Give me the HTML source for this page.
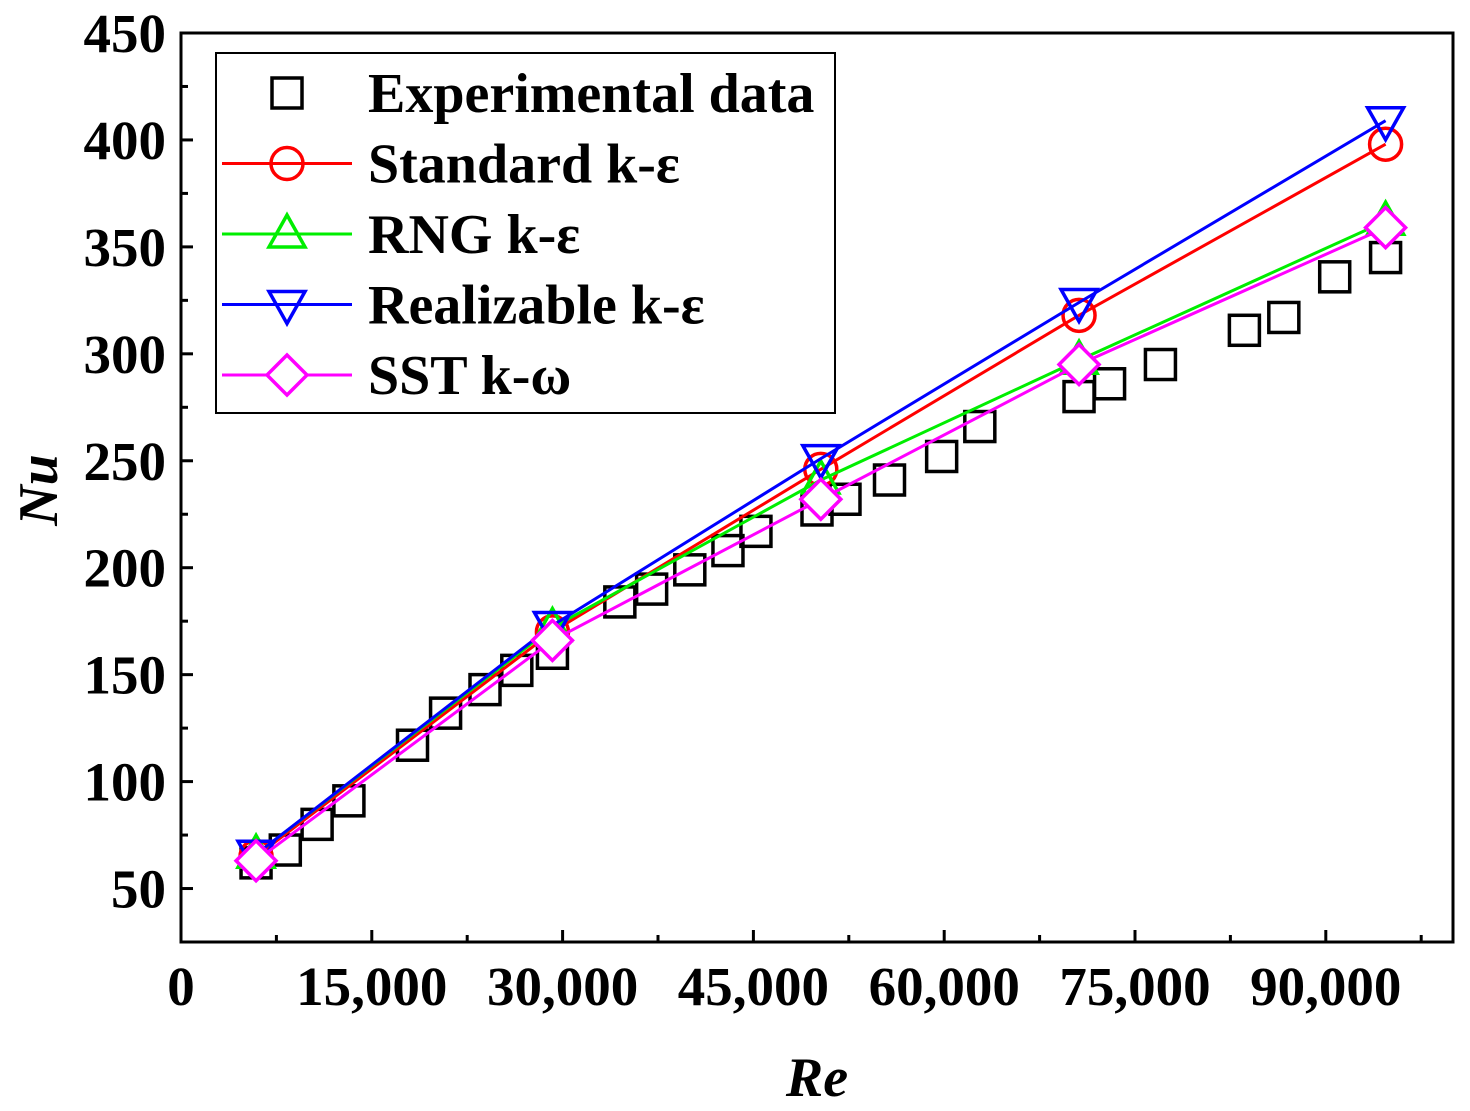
<!DOCTYPE html>
<html><head><meta charset="utf-8"><style>
body{margin:0;background:#fff}
svg text{font-family:"Liberation Serif",serif;font-weight:bold}
</style></head><body>
<svg id="chart" width="1470" height="1106" viewBox="0 0 1470 1106">
<g id="grid"></g>
<g id="series"></g>
<g id="legend"></g>
<text x="57" y="490" font-size="56" font-style="italic" text-anchor="middle" transform="rotate(-90 57 490)">Nu</text>
<text x="817" y="1096" font-size="56" font-style="italic" text-anchor="middle">Re</text>
</svg>
<script>
const xTicks=[0,15000,30000,45000,60000,75000,90000];
const xTickLabels=["0","15,000","30,000","45,000","60,000","75,000","90,000"];
const yTicks=[50,100,150,200,250,300,350,400,450];
const expRe=[5900,8200,10700,13200,18200,20800,23900,26400,29200,34500,37000,40000,43000,45200,50000,52200,55700,59800,62800,70600,73000,77000,83600,86700,90700,94700];
const expNu=[62,68,80,91,117,132,143,152,160,184,190,199,208,217,227,232,241,252,266,280,286,295,311,317,336,345];
const modelRe=[5900,29200,50300,70600,94700];
const stdNu=[65,170,246,318,398];
const rngNu=[66,172,241,297,362];
const realNu=[66,173,251,324,409];
const sstNu=[63,166,232,295,359];
const L=181,R=1453,T=33,B=942;
const X=v=>L+v/100000*(R-L);
const Y=v=>B-(v-25)/(450-25)*(B-T);
const NS="http://www.w3.org/2000/svg";
function mk(tag,attrs,parent){const e=document.createElementNS(NS,tag);for(const k in attrs)e.setAttribute(k,attrs[k]);parent.appendChild(e);return e;}
const grid=document.getElementById('grid'),ser=document.getElementById('series'),leg=document.getElementById('legend');
const frame=mk('rect',{x:L,y:T,width:R-L,height:B-T,fill:'none',stroke:'#000','stroke-width':3},grid);


xTicks.forEach((v,i)=>{
 const t=mk('line',{x1:X(v),x2:X(v),y1:B,y2:B-12,stroke:'#000','stroke-width':3},grid);
 
 
 const m=mk('line',{x1:X(v+7500),x2:X(v+7500),y1:B,y2:B-7,stroke:'#000','stroke-width':3},grid);
 
 
 const tx=mk('text',{x:X(v),y:1005,'font-size':55,'text-anchor':'middle'},grid);tx.textContent=xTickLabels[i];
 
 
});
yTicks.forEach(v=>{
 const t=mk('line',{x1:L,x2:L+12,y1:Y(v),y2:Y(v),stroke:'#000','stroke-width':3},grid);
 
 
 if(v>25){const m=mk('line',{x1:L,x2:L+7,y1:Y(v-25),y2:Y(v-25),stroke:'#000','stroke-width':3},grid);
 
 }
 const tx=mk('text',{x:166,y:Y(v)+19,'font-size':55,'text-anchor':'end'},grid);tx.textContent=v;
 
 
});
function marker(type,cx,cy,color,parent){
 let e;
 if(type==='sq')e=mk('rect',{x:cx-15,y:cy-15,width:30,height:30,fill:'none',stroke:color,'stroke-width':3.5},parent);
 else if(type==='ci')e=mk('circle',{cx:cx,cy:cy,r:16,fill:'none',stroke:color,'stroke-width':3.5},parent);
 else if(type==='up')e=mk('polygon',{points:`${cx},${cy-19} ${cx-18},${cy+13} ${cx+18},${cy+13}`,fill:'none',stroke:color,'stroke-width':3.5},parent);
 else if(type==='dn')e=mk('polygon',{points:`${cx},${cy+19} ${cx-18},${cy-13} ${cx+18},${cy-13}`,fill:'none',stroke:color,'stroke-width':3.5},parent);
 else e=mk('polygon',{points:`${cx},${cy-20} ${cx+20},${cy} ${cx},${cy+20} ${cx-20},${cy}`,fill:'#fff',stroke:color,'stroke-width':3.5},parent);
 return e;
}
expRe.forEach((r,i)=>{const m=marker('sq',X(r),Y(expNu[i]),'#000',ser);
 
 });
const models=[[stdNu,'#f00','ci','standard-k-epsilon'],[rngNu,'#0e0','up','rng-k-epsilon'],[realNu,'#00f','dn','realizable-k-epsilon'],[sstNu,'#f0f','di','sst-k-omega']];
models.forEach(([d,c,t,n])=>{
 const g=mk('g',{},ser);
 
 
 const p=mk('polyline',{points:modelRe.map((r,i)=>X(r)+','+Y(d[i])).join(' '),fill:'none',stroke:c,'stroke-width':3},g);
 
 
 modelRe.forEach((r,i)=>{const m=marker(t,X(r),Y(d[i]),c,g);
  
  });
});
const lb=mk('rect',{x:216,y:53,width:619,height:360,fill:'#fff',stroke:'#000','stroke-width':2},leg);


const legItems=[['Experimental data','#000','sq',false],['Standard k-ε','#f00','ci',true],['RNG k-ε','#0e0','up',true],['Realizable k-ε','#00f','dn',true],['SST k-ω','#f0f','di',true]];
legItems.forEach(([txt,c,t,line],i)=>{
 const y=93+i*70.5;
 const g=mk('g',{},leg);
 
 
 if(line)mk('line',{x1:222,x2:352,y1:y,y2:y,stroke:c,'stroke-width':3},g);
 marker(t,287,y,c,g);
 const tx=mk('text',{x:368,y:y+19,'font-size':56},g);tx.textContent=txt;
});
</script>
</body></html>
